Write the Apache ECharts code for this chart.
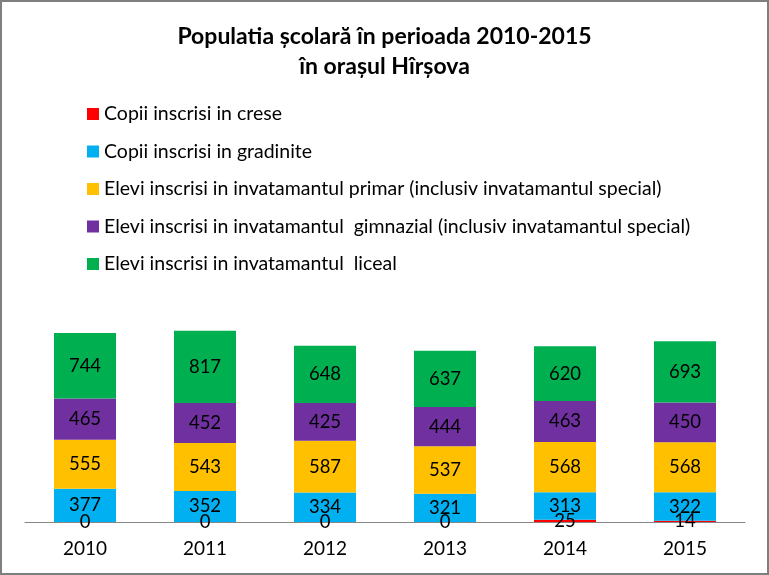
<!DOCTYPE html>
<html><head><meta charset="utf-8">
<script src="https://cdn.jsdelivr.net/npm/echarts@6/dist/echarts.min.js"></script>
<style>html,body{margin:0;padding:0;background:#fff}#c{width:769px;height:575px}</style>
</head><body><div id="c"></div>
<script>
const categories = ['2010','2011','2012','2013','2014','2015'];
const seriesNames = [
  'Copii inscrisi in crese',
  'Copii inscrisi in gradinite',
  'Elevi inscrisi in invatamantul primar (inclusiv invatamantul special)',
  'Elevi inscrisi in invatamantul  gimnazial (inclusiv invatamantul special)',
  'Elevi inscrisi in invatamantul  liceal'
];
const crese = [0, 0, 0, 0, 25, 14];
const gradinite = [377, 352, 334, 321, 313, 322];
const primar = [555, 543, 587, 537, 568, 568];
const gimnazial = [465, 452, 425, 444, 463, 450];
const liceal = [744, 817, 648, 637, 620, 693];
const colors = ['#FF0000', '#00B0F0', '#FFC000', '#7030A0', '#00B050'];

const FONT = 'Lato';
const values = [crese, gradinite, primar, gimnazial, liceal];
const chart = echarts.init(document.getElementById('c'));
chart.setOption({
  animation: false,
  backgroundColor: '#fff',
  title: {
    text: 'Populatia școlară în perioada 2010-2015\nîn orașul Hîrșova',
    left: 'center', top: 17,
    textStyle: {fontFamily: FONT, fontSize: 23, fontWeight: 'bold', color: '#000', lineHeight: 30}
  },
  legend: {
    orient: 'vertical', left: 82, top: 98,
    itemWidth: 12, itemHeight: 12, itemGap: 15.5,
    icon: 'rect',
    textStyle: {fontFamily: FONT, fontSize: 19.5, color: '#000', lineHeight: 22},
    data: seriesNames
  },
  grid: {left: 25, right: 24, top: 257, bottom: 53},
  xAxis: {
    type: 'category', data: categories,
    axisLine: {lineStyle: {color: '#868686', width: 1}},
    axisTick: {show: false},
    axisLabel: {fontFamily: FONT, fontSize: 19, color: '#000', margin: 17}
  },
  yAxis: {type: 'value', min: 0, max: 3000, show: false, splitLine: {show: false}},
  series: values.map((v, i) => ({
    name: seriesNames[i], type: 'bar', stack: 'total', data: v,
    barWidth: 62,
    itemStyle: {color: colors[i]},
    label: {show: true, position: 'inside', fontFamily: FONT, fontSize: 18.5, color: '#000'}
  })),
  graphic: [{
    type: 'rect', z: 100, silent: true,
    shape: {x: 1, y: 1, width: 767, height: 573},
    style: {fill: null, stroke: '#7f7f7f', lineWidth: 2}
  }]
});
</script></body></html>
